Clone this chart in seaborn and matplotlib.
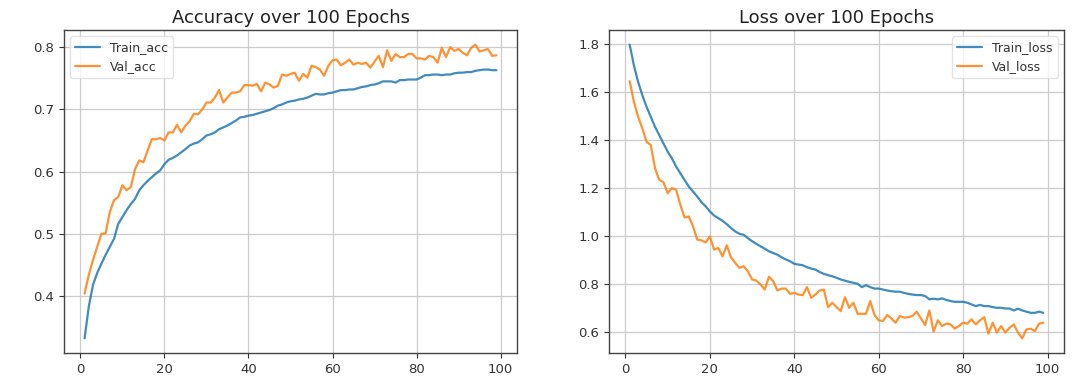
import numpy as np
import pandas as pd
import matplotlib
matplotlib.use("Agg")
import matplotlib.pyplot as plt
import seaborn as sns

epochs = list(range(1, 100))

train_acc = [0.332, 0.383, 0.418, 0.437, 0.452, 0.466, 0.479, 0.492, 0.516, 0.527,
             0.538, 0.548, 0.556, 0.570, 0.578, 0.585, 0.591, 0.597, 0.602, 0.612,
             0.619, 0.622, 0.626, 0.631, 0.636, 0.642, 0.645, 0.647, 0.652, 0.658,
             0.660, 0.663, 0.668, 0.671, 0.674, 0.678, 0.682, 0.687, 0.688, 0.690,
             0.691, 0.693, 0.695, 0.697, 0.699, 0.702, 0.706, 0.708, 0.711, 0.713,
             0.714, 0.716, 0.717, 0.719, 0.722, 0.725, 0.724, 0.724, 0.726, 0.727,
             0.729, 0.731, 0.731, 0.732, 0.732, 0.734, 0.736, 0.737, 0.739, 0.740,
             0.742, 0.745, 0.745, 0.745, 0.743, 0.747, 0.747, 0.748, 0.748, 0.748,
             0.751, 0.755, 0.755, 0.756, 0.756, 0.755, 0.756, 0.756, 0.758, 0.759,
             0.759, 0.760, 0.760, 0.762, 0.763, 0.764, 0.764, 0.763, 0.763]

val_acc = [0.404, 0.434, 0.458, 0.479, 0.500, 0.501, 0.535, 0.554, 0.559, 0.578,
           0.570, 0.575, 0.604, 0.618, 0.615, 0.634, 0.652, 0.652, 0.654, 0.650,
           0.663, 0.663, 0.675, 0.663, 0.674, 0.681, 0.693, 0.692, 0.700, 0.711,
           0.711, 0.719, 0.731, 0.711, 0.719, 0.727, 0.727, 0.729, 0.739, 0.739,
           0.738, 0.741, 0.729, 0.743, 0.740, 0.735, 0.738, 0.756, 0.754, 0.757,
           0.759, 0.746, 0.757, 0.751, 0.770, 0.768, 0.764, 0.754, 0.770, 0.779,
           0.780, 0.771, 0.775, 0.780, 0.772, 0.775, 0.773, 0.775, 0.767, 0.777,
           0.786, 0.768, 0.795, 0.778, 0.789, 0.784, 0.784, 0.789, 0.789, 0.782,
           0.782, 0.780, 0.786, 0.784, 0.775, 0.799, 0.784, 0.800, 0.794, 0.797,
           0.791, 0.787, 0.799, 0.804, 0.793, 0.795, 0.797, 0.786, 0.787]

train_loss = [1.796, 1.710, 1.641, 1.586, 1.537, 1.496, 1.454, 1.420, 1.385, 1.351,
              1.323, 1.289, 1.261, 1.233, 1.206, 1.185, 1.164, 1.141, 1.123, 1.102,
              1.085, 1.074, 1.063, 1.049, 1.033, 1.019, 1.009, 1.005, 0.991, 0.978,
              0.967, 0.957, 0.947, 0.936, 0.929, 0.922, 0.911, 0.902, 0.895, 0.884,
              0.881, 0.878, 0.870, 0.864, 0.860, 0.850, 0.842, 0.837, 0.832, 0.826,
              0.819, 0.814, 0.809, 0.805, 0.801, 0.787, 0.795, 0.787, 0.781, 0.781,
              0.777, 0.773, 0.770, 0.768, 0.768, 0.763, 0.759, 0.756, 0.754, 0.754,
              0.750, 0.736, 0.739, 0.736, 0.740, 0.734, 0.729, 0.726, 0.726, 0.726,
              0.722, 0.715, 0.708, 0.713, 0.708, 0.708, 0.704, 0.701, 0.701, 0.698,
              0.698, 0.690, 0.697, 0.690, 0.685, 0.680, 0.680, 0.685, 0.680]

val_loss = [1.644, 1.558, 1.496, 1.448, 1.392, 1.378, 1.282, 1.233, 1.224, 1.178,
            1.199, 1.192, 1.130, 1.077, 1.081, 1.040, 0.985, 0.982, 0.973, 0.998,
            0.943, 0.950, 0.915, 0.961, 0.911, 0.888, 0.867, 0.874, 0.853, 0.819,
            0.814, 0.798, 0.777, 0.830, 0.812, 0.773, 0.781, 0.781, 0.759, 0.763,
            0.756, 0.754, 0.787, 0.743, 0.756, 0.773, 0.777, 0.704, 0.722, 0.704,
            0.687, 0.745, 0.701, 0.722, 0.676, 0.676, 0.676, 0.729, 0.671, 0.649,
            0.646, 0.671, 0.657, 0.639, 0.667, 0.660, 0.662, 0.667, 0.685, 0.657,
            0.629, 0.690, 0.602, 0.649, 0.625, 0.635, 0.632, 0.615, 0.625, 0.639,
            0.635, 0.653, 0.632, 0.649, 0.662, 0.593, 0.639, 0.598, 0.625, 0.598,
            0.618, 0.632, 0.598, 0.574, 0.611, 0.614, 0.604, 0.635, 0.639]

sns.set_style("ticks")
plt.rcParams['font.family'] = ['DejaVu Sans']
plt.rcParams['axes.edgecolor'] = '#444444'
plt.rcParams['xtick.color'] = '#333333'
plt.rcParams['ytick.color'] = '#333333'

acc_df = pd.DataFrame({"epoch": epochs * 2,
                       "value": train_acc + val_acc,
                       "series": ["Train_acc"] * len(epochs) + ["Val_acc"] * len(epochs)})
loss_df = pd.DataFrame({"epoch": epochs * 2,
                        "value": train_loss + val_loss,
                        "series": ["Train_loss"] * len(epochs) + ["Val_loss"] * len(epochs)})

palette = ["#1f77b4", "#ff7f0e"]

fig = plt.figure(figsize=(10.8, 3.82), dpi=100)
ax1 = fig.add_axes([64 / 1080, 29 / 382, 453 / 1080, 323 / 382])
ax2 = fig.add_axes([609 / 1080, 29 / 382, 455 / 1080, 323 / 382])

for ax, df, title, loc in [(ax1, acc_df, "Accuracy over 100 Epochs", "upper left"),
                           (ax2, loss_df, "Loss over 100 Epochs", "upper right")]:
    sns.lineplot(data=df, x="epoch", y="value", hue="series", palette=palette,
                 ax=ax, linewidth=1.6, alpha=0.85)
    ax.set_title(title, fontsize=13, color="#222222", pad=5)
    ax.set_xlabel("")
    ax.set_ylabel("")
    ax.grid(True, color="#cccccc", linewidth=0.9)
    ax.tick_params(labelsize=9.5, length=3.5)
    for s in ax.spines.values():
        s.set_linewidth(1.0)
    leg = ax.legend(loc=loc, fontsize=9, frameon=True)
    leg.get_frame().set_edgecolor("#dddddd")
    for t in leg.get_texts():
        t.set_color("#333333")
    ax.set_xticks([0, 20, 40, 60, 80, 100])

fig.savefig("out.png", dpi=100)
